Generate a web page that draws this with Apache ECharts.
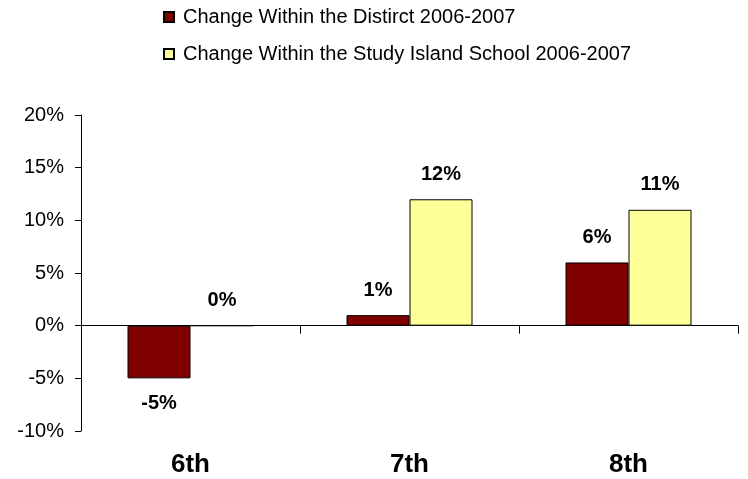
<!DOCTYPE html>
<html>
<head>
<meta charset="utf-8">
<script src="https://cdn.jsdelivr.net/npm/echarts@6/dist/echarts.min.js"></script>
<style>
  html, body { margin: 0; padding: 0; background: #fff; }
  #chart { width: 748px; height: 479px; }
</style>
</head>
<body>
<div id="chart"></div>
<script>
// Grade-level change in scores, in percent
var grades = ['6th', '7th', '8th'];
var districtChange = [-5, 1, 6];
var schoolChange = [0, 12, 11];
var seriesNames = ['Change Within the Distirct 2006-2007', 'Change Within the Study Island School 2006-2007'];
var yTicks = { min: -10, max: 20, step: 5 };

var FONT = '"Liberation Sans", Arial, sans-serif';

// Labels sit above positive bars and below negative ones
function withLabels(values) {
  return values.map(function (v) {
    return { value: v, label: { position: v < 0 ? 'bottom' : 'top' } };
  });
}

var valueLabel = {
  show: true,
  distance: 15,
  color: '#000',
  fontFamily: FONT,
  fontWeight: 'bold',
  fontSize: 20,
  formatter: function (p) { return p.value + '%'; }
};

var chart = echarts.init(document.getElementById('chart'), null, { renderer: 'canvas' });
chart.setOption({
  animation: false,
  backgroundColor: '#fff',
  grid: { left: 81, right: 10, top: 115, bottom: 48, containLabel: false },
  legend: {
    orient: 'vertical',
    left: 158,
    top: 2,
    itemWidth: 10,
    itemHeight: 10,
    itemGap: 17,
    icon: 'rect',
    textStyle: { fontFamily: FONT, fontSize: 20, color: '#000', padding: [0, 0, 0, 4] },
    data: seriesNames
  },
  xAxis: [
    {
      // category names along the bottom edge
      type: 'category',
      position: 'bottom',
      data: grades,
      axisLine: { show: false, onZero: false },
      axisTick: { show: false },
      axisLabel: {
        margin: 21,
        color: '#000',
        fontFamily: FONT,
        fontWeight: 'bold',
        fontSize: 26
      }
    },
    {
      // baseline through zero with boundary ticks
      type: 'category',
      position: 'top',
      data: grades,
      axisLine: { show: true, onZero: true, lineStyle: { color: '#000', width: 1 } },
      axisTick: { show: true, inside: true, length: 8, lineStyle: { color: '#000' } },
      axisLabel: { show: false }
    }
  ],
  yAxis: {
    type: 'value',
    min: yTicks.min,
    max: yTicks.max,
    interval: yTicks.step,
    axisLine: { show: true, lineStyle: { color: '#000', width: 1 } },
    axisTick: { show: true, length: 6, lineStyle: { color: '#000' } },
    splitLine: { show: false },
    axisLabel: {
      margin: 17,
      color: '#000',
      fontFamily: FONT,
      fontSize: 20,
      formatter: '{value}%'
    }
  },
  series: [
    {
      name: seriesNames[0],
      type: 'bar',
      xAxisIndex: 0,
      barWidth: 63,
      barGap: '0%',
      data: withLabels(districtChange),
      itemStyle: { color: '#800000', borderColor: '#000', borderWidth: 1 },
      label: valueLabel
    },
    {
      name: seriesNames[1],
      type: 'bar',
      xAxisIndex: 0,
      barWidth: 63,
      barGap: '0%',
      data: withLabels(schoolChange),
      itemStyle: { color: '#FFFF99', borderColor: '#000', borderWidth: 1 },
      label: valueLabel
    }
  ]
});
</script>
</body>
</html>
